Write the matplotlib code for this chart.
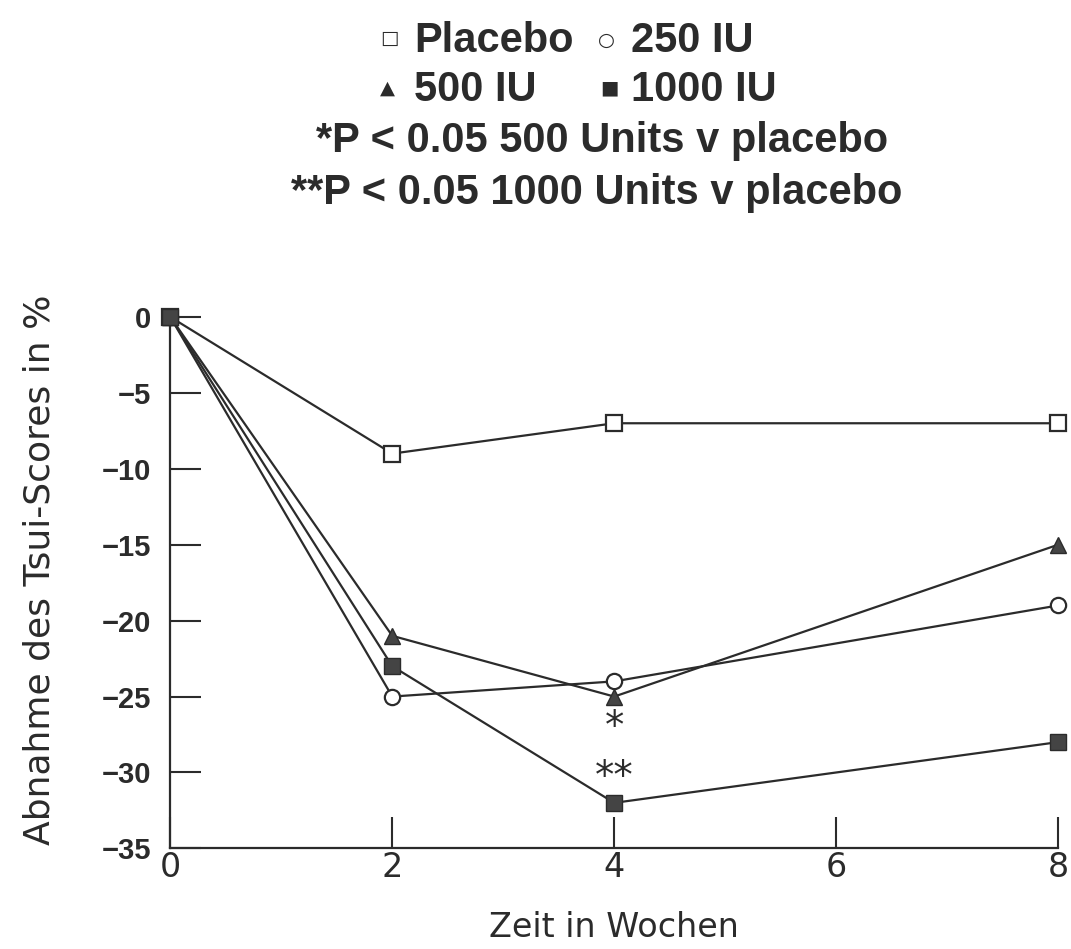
import matplotlib.pyplot as plt

weeks = [0, 2, 4, 8]
placebo = [0, -9, -7, -7]
iu_250 = [0, -25, -24, -19]
iu_500 = [0, -21, -25, -15]
iu_1000 = [0, -23, -32, -28]

yticks = [0, -5, -10, -15, -20, -25, -30, -35]
xticks = [0, 2, 4, 6, 8]

ink = "#2b2b2b"

fig = plt.figure(figsize=(10.71, 9.49), dpi=100)
ax = fig.add_axes([0.159, 0.106, 0.829, 0.560])

ax.plot(weeks, placebo, color=ink, lw=1.6, marker="s", ms=11, mfc="white", mec=ink, mew=1.6, clip_on=False, zorder=3)
ax.plot(weeks, iu_250, color=ink, lw=1.6, marker="o", ms=11, mfc="white", mec=ink, mew=1.6, clip_on=False, zorder=3)
ax.plot(weeks, iu_500, color=ink, lw=1.6, marker="^", ms=12, mfc="#444444", mec=ink, clip_on=False, zorder=3)
ax.plot(weeks, iu_1000, color=ink, lw=1.6, marker="s", ms=11, mfc="#444444", mec=ink, clip_on=False, zorder=4)

# significance markers
ax.text(4, -27.0, "*", ha="center", va="center", fontsize=28, color=ink)
ax.text(4, -30.3, "**", ha="center", va="center", fontsize=28, color=ink)

ax.set_xlim(0, 8)
ax.set_ylim(-35, 0)
ax.set_xticks(xticks)
ax.set_yticks(yticks)
ax.set_yticklabels([str(v).replace("-", "\u2212") for v in yticks], fontsize=21, fontweight="bold",
                   family="Liberation Sans", color=ink)
ax.set_xticklabels([str(v) for v in xticks], fontsize=24, family="DejaVu Sans", color=ink)
ax.tick_params(axis="both", direction="in", length=22, width=1.5, color=ink)
ax.tick_params(axis="y", pad=14)
ax.tick_params(axis="x", pad=2)
for s in ["top", "right"]:
    ax.spines[s].set_visible(False)
for s in ["left", "bottom"]:
    ax.spines[s].set_linewidth(1.6)
    ax.spines[s].set_color(ink)

ax.set_xlabel("Zeit in Wochen", fontsize=24, color=ink)
ax.xaxis.set_label_coords(0.5, -0.118)
ax.set_ylabel("Abnahme des Tsui-Scores in %", fontsize=26, color=ink)
ax.yaxis.set_label_coords(-0.128, 0.525)

# legend as text block
big = dict(fontsize=30, fontweight="bold", family="Liberation Sans", color=ink, va="center")
sym = dict(fontsize=14, family="DejaVu Sans", color=ink, va="center", ha="center")
fig.text(389 / 1071, 1 - 38 / 949, "\u25a1", **sym)
fig.text(414 / 1071, 1 - 41 / 949, "Placebo", ha="left", **big)
fig.text(606 / 1071, 1 - 40 / 949, "\u25cb", **sym)
fig.text(631 / 1071, 1 - 41 / 949, "250 IU", ha="left", **big)
fig.text(387 / 1071, 1 - 88 / 949, "\u25b2", **sym)
fig.text(414 / 1071, 1 - 90 / 949, "500 IU", ha="left", **big)
fig.text(609 / 1071, 1 - 88 / 949, "\u25a0", **sym)
fig.text(631 / 1071, 1 - 90 / 949, "1000 IU", ha="left", **big)
fig.text(602 / 1071, 1 - 141 / 949, "*P < 0.05 500 Units v placebo", ha="center", **big)
fig.text(597 / 1071, 1 - 193 / 949, "**P < 0.05 1000 Units v placebo", ha="center", **big)

plt.savefig("out.png", dpi=100)
